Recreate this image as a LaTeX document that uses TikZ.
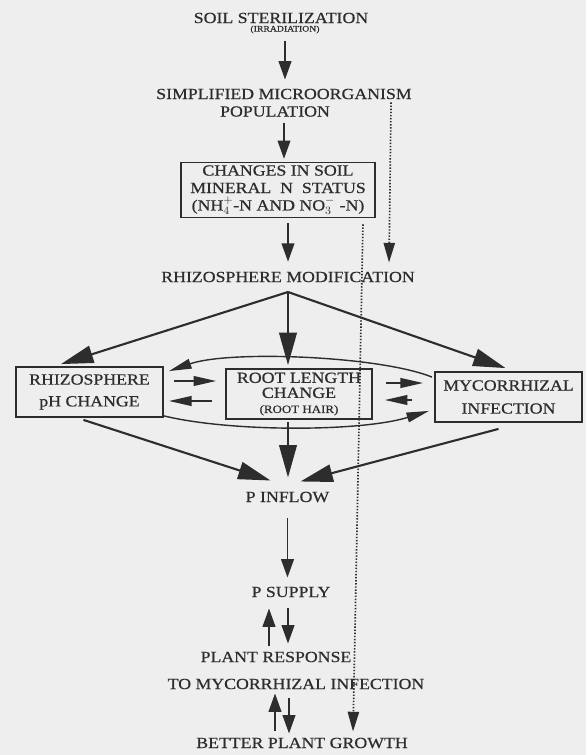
\documentclass[tikz,border=0pt]{standalone}
\usepackage{fontspec}
\setmainfont[FakeStretch=1.15, FakeBold=0.6]{Liberation Serif}
\usetikzlibrary{arrows.meta,calc}
\definecolor{ink}{RGB}{45,45,45}
\definecolor{scanbg}{RGB}{238,238,238}
\tikzset{
  lbl/.style={font=\fontsize{11}{12}\selectfont, text=ink, inner sep=0pt, align=center},
  tinylbl/.style={font=\fontsize{6}{6}\selectfont, text=ink, inner sep=0pt},
  boxnode/.style={lbl, draw=ink, line width=1.3pt, inner sep=2pt, minimum height=1.25cm},
  bigarrow/.style={draw=ink, line width=1.5pt, -{Triangle[length=23pt,width=12.5pt]}},
  midarrow/.style={draw=ink, line width=1.3pt, -{Triangle[length=13pt,width=9pt]}},
  thinarrow/.style={draw=ink, line width=1pt, -{Triangle[length=16pt,width=7pt]}},
  dotarrow/.style={draw=ink, line width=1.2pt, dash pattern=on 1pt off 1.2pt, -{Triangle[length=14pt,width=8pt]}},
}
\begin{document}
\begin{tikzpicture}[x=0.025cm,y=-0.025cm]
    \path[use as bounding box, fill=scanbg] (0,0) rectangle (586,755);
    % top chain
    \node[lbl] (steril) at (281,18) {SOIL STERILIZATION};
    \node[tinylbl] (irrad) at (285,29.5) {(IRRADIATION)};
    \node[lbl] (simpl) at (284,94) {SIMPLIFIED MICROORGANISM};
    \node[lbl] (popul) at (275,111.5) {POPULATION};
    \node[boxnode, minimum width=4.85cm, minimum height=1.35cm, font=\fontsize{11}{12.4}\selectfont] (change) at (278,190)
        {CHANGES IN SOIL\\MINERAL\ \ N\ \ STATUS\\(NH$_4^+$-N AND NO$_3^-$ -N)};
    \node[lbl] (modif) at (288,277) {RHIZOSPHERE MODIFICATION};
    \coordinate (fan) at (288,292);
    % middle row
    \node[boxnode, minimum width=3.68cm, font=\fontsize{11}{15.5}\selectfont] (phbox) at (89.5,392) {RHIZOSPHERE\\pH CHANGE};
    \node[boxnode, minimum width=3.65cm, font=\fontsize{11}{10.7}\selectfont] (rootbox) at (299,394)
        {ROOT LENGTH\\CHANGE\\{\fontsize{8}{8}\selectfont (ROOT HAIR)}};
    \node[boxnode, minimum width=3.68cm, font=\fontsize{11}{16.4}\selectfont] (mycbox) at (508.5,397) {MYCORRHIZAL\\INFECTION};
    % lower chain
    \node[lbl] (inflow) at (287.5,497) {P INFLOW};
    \node[lbl] (supply) at (291,592) {P SUPPLY};
    \node[lbl] (resp) at (276,657) {PLANT RESPONSE};
    \node[lbl] (respmyc) at (296,684) {TO MYCORRHIZAL INFECTION};
    \node[lbl] (growth) at (302,743) {BETTER PLANT GROWTH};

    \draw[midarrow, shorten <=5pt, shorten >=6.4pt] (irrad.south) -- (irrad.south |- simpl.north);
    \draw[midarrow, shorten <=4pt, shorten >=2pt] (popul.south -| simpl) -- (change.north -| simpl);
    \draw[midarrow, shorten <=3.5pt, shorten >=7pt] (change.south -| modif) -- (modif.north);
    % fan out
    \draw[bigarrow] (fan) -- ($(phbox.north west)+(46,-2)$);
    \draw[bigarrow] (fan) -- ($(fan |- rootbox.north)+(0,-3)$);
    \draw[bigarrow] (fan) -- ($(mycbox.north)+(-3,-3)$);
    % links between the boxes
    \draw[thinarrow] ($(mycbox.north west)+(-2,6)$) .. controls (380,356) and (230,350) .. ($(phbox.north east)+(5,5)$);
    \draw[thinarrow] ($(phbox.south east)+(0,-2)$) .. controls (230,432) and (360,432) .. ($(mycbox.south west)+(-5,-12)$);
    \draw[thinarrow] ($(phbox.east)+(10,-11)$) -- ($(rootbox.west)+(-9,-13)$);
    \draw[thinarrow] ($(rootbox.west)+(-13,7)$) -- ($(phbox.east)+(5,9)$);
    \draw[thinarrow] ($(rootbox.east)+(13,-11)$) -- ($(mycbox.west)+(-11,-14)$);
    \draw[thinarrow] ($(mycbox.west)+(-22,3)$) -- ($(rootbox.east)+(12,6)$);
    % fan in
    \draw[bigarrow] ($(phbox.south)+(-6,2)$) -- ($(inflow.north)+(-17,-11)$);
    \draw[bigarrow] ($(rootbox.south -| fan)+(0,2)$) -- ($(inflow.north -| fan)+(0,-14)$);
    \draw[bigarrow] ($(mycbox.south)+(-10,6)$) -- ($(inflow.north)+(13,-10)$);
    % lower chain
    \draw[midarrow, shorten <=11pt, shorten >=6.4pt] (inflow.south) -- (inflow.south |- supply.north);
    \draw[midarrow] ($(resp.north)+(-7,-6)$) -- ($(supply.south)+(-22,11)$);
    \draw[midarrow] ($(supply.south)+(-3,11)$) -- ($(resp.north)+(12,-8)$);
    \draw[midarrow] ($(growth.north)+(-27,-6)$) -- ($(respmyc.south)+(-21,4)$);
    \draw[midarrow] ($(respmyc.south)+(-7,9)$) -- ($(growth.north)+(-13,-4)$);
    % dotted side paths
    \draw[dotarrow] ($(simpl.south east)+(-21,3)$) -- ($(modif.north east)+(-26,-9)$);
    \draw[dotarrow] ($(change.south east)+(-13,6)$) -- ($(growth.north east)+(-55,-6)$);
\end{tikzpicture}
\end{document}
